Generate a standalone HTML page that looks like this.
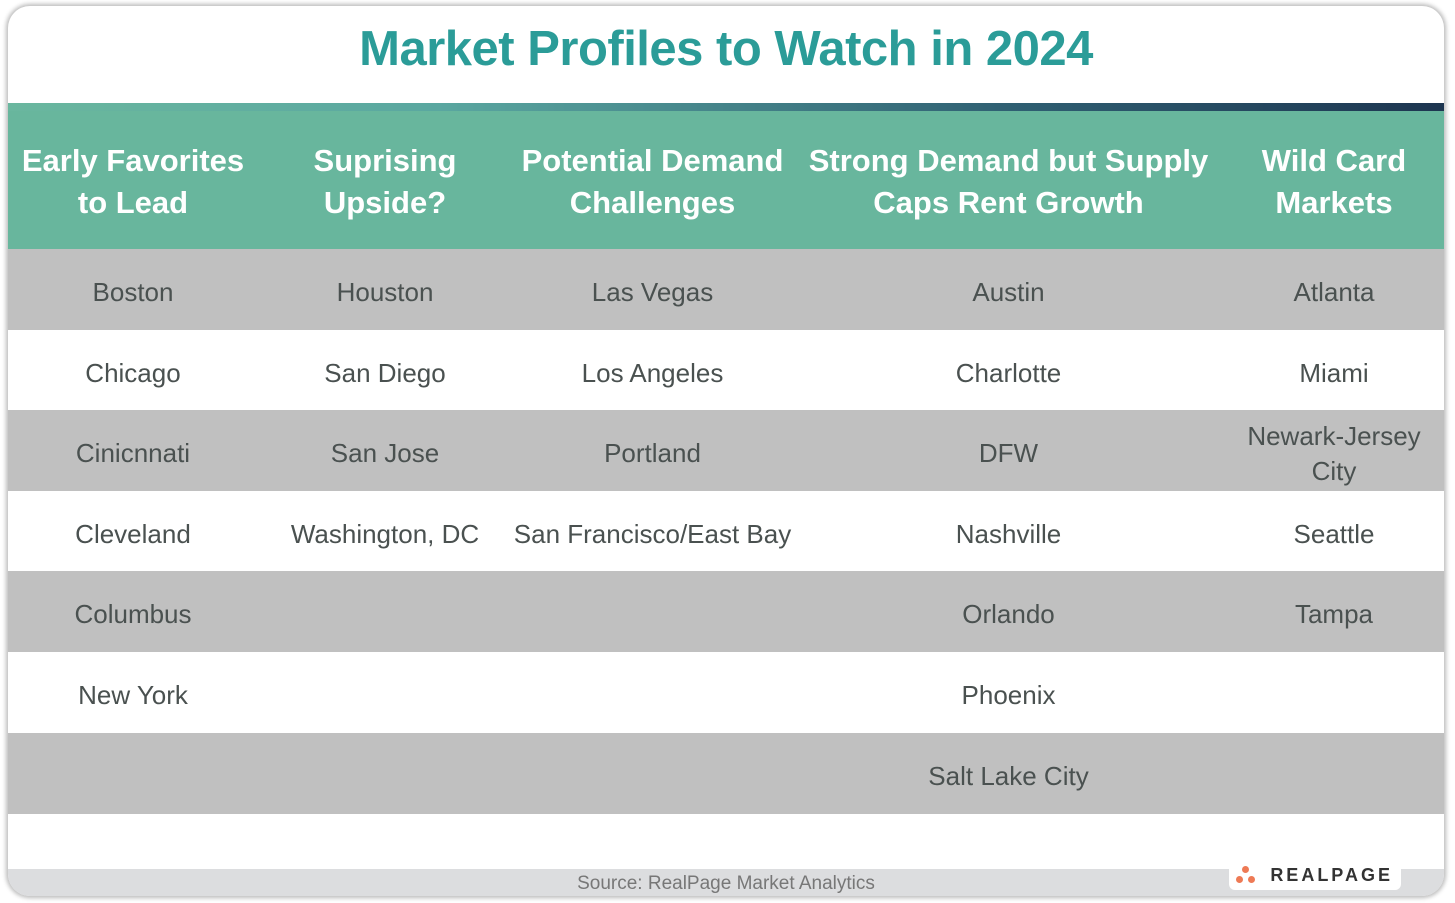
<!DOCTYPE html>
<html><head><meta charset="utf-8"><style>
body{margin:0;width:1455px;height:903px;background:#fff;font-family:"Liberation Sans",sans-serif;overflow:hidden;position:relative}
.card{position:absolute;left:8px;top:6px;width:1436px;height:890px;border-radius:22px;box-shadow:0 0 4px 2px #bbb;overflow:hidden;background:#fff}
.title{position:absolute;left:0;right:0;top:15px;text-align:center;font-weight:bold;font-size:49px;color:#2b9c98;letter-spacing:-0.5px}
.bar{position:absolute;left:0;right:0;top:97px;height:8px;background:linear-gradient(90deg,#6ab79f,#5aa7a0 30%,#2f5f72 70%,#1d3550)}
.hdr{position:absolute;left:0;right:0;top:105px;height:138px;background:#68b69d}
.row{position:absolute;left:0;right:0;height:81px}
.g{background:#c0c0c0}
.c{position:absolute;display:flex;align-items:center;justify-content:center;text-align:center;height:100%}
.h .c{color:#fff;font-weight:bold;font-size:31px;line-height:42px;padding-top:4px;box-sizing:border-box}
.row .c{color:#4a5150;font-size:26px;line-height:35px;padding-top:6px;box-sizing:border-box}
.foot{position:absolute;left:0;right:0;top:863px;height:27px;background:#dcdddf;text-align:center;font-size:19px;color:#777;line-height:30px}
.logo{position:absolute;left:1229px;top:860px;width:172px;height:30px;background:#fff;border-radius:6px;font-weight:bold;font-size:18px;letter-spacing:3px;color:#333;line-height:30px;text-align:right;padding-right:8px;box-sizing:border-box}
.d{position:absolute;width:7px;height:7px;border-radius:50%;background:#ee7a55}
</style></head><body>
<div class="card">
<div class="title">Market Profiles to Watch in 2024</div>
<div class="bar"></div>
<div class="hdr h">
<div class="c" style="left:0;width:250px">Early Favorites<br>to Lead</div>
<div class="c" style="left:250px;width:254px">Suprising<br>Upside?</div>
<div class="c" style="left:504px;width:281px">Potential Demand<br>Challenges</div>
<div class="c" style="left:785px;width:431px">Strong Demand but Supply<br>Caps Rent Growth</div>
<div class="c" style="left:1216px;width:220px">Wild Card<br>Markets</div>
</div>
<div class="row g" style="top:243px"><div class="c" style="left:0;width:250px">Boston</div><div class="c" style="left:250px;width:254px">Houston</div><div class="c" style="left:504px;width:281px">Las Vegas</div><div class="c" style="left:785px;width:431px">Austin</div><div class="c" style="left:1216px;width:220px">Atlanta</div></div>
<div class="row" style="top:324px"><div class="c" style="left:0;width:250px">Chicago</div><div class="c" style="left:250px;width:254px">San Diego</div><div class="c" style="left:504px;width:281px">Los Angeles</div><div class="c" style="left:785px;width:431px">Charlotte</div><div class="c" style="left:1216px;width:220px">Miami</div></div>
<div class="row g" style="top:404px"><div class="c" style="left:0;width:250px">Cinicnnati</div><div class="c" style="left:250px;width:254px">San Jose</div><div class="c" style="left:504px;width:281px">Portland</div><div class="c" style="left:785px;width:431px">DFW</div><div class="c" style="left:1216px;width:220px">Newark-Jersey<br>City</div></div>
<div class="row" style="top:485px"><div class="c" style="left:0;width:250px">Cleveland</div><div class="c" style="left:250px;width:254px">Washington, DC</div><div class="c" style="left:504px;width:281px">San Francisco/East Bay</div><div class="c" style="left:785px;width:431px">Nashville</div><div class="c" style="left:1216px;width:220px">Seattle</div></div>
<div class="row g" style="top:565px"><div class="c" style="left:0;width:250px">Columbus</div><div class="c" style="left:785px;width:431px">Orlando</div><div class="c" style="left:1216px;width:220px">Tampa</div></div>
<div class="row" style="top:646px"><div class="c" style="left:0;width:250px">New York</div><div class="c" style="left:785px;width:431px">Phoenix</div></div>
<div class="row g" style="top:727px"><div class="c" style="left:785px;width:431px">Salt Lake City</div></div>
<div class="foot">Source: RealPage Market Analytics</div>
</div>
<div class="logo">REALPAGE<span class="d" style="left:7px;top:16px"></span><span class="d" style="left:13px;top:6px"></span><span class="d" style="left:19px;top:16px"></span></div>
</body></html>
